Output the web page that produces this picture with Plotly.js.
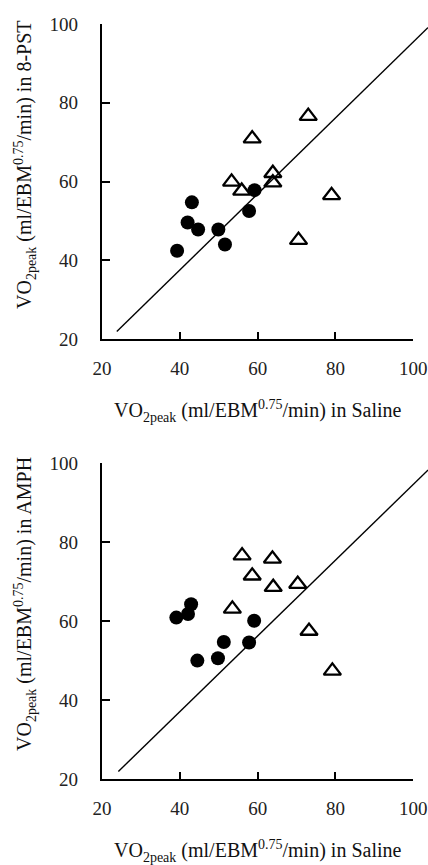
<!DOCTYPE html>
<html>
<head>
<meta charset="utf-8">
<script src="https://cdn.plot.ly/plotly-3.0.1.min.js"></script>
<style>html,body{margin:0;padding:0;background:#fff;}#chart{width:428px;height:865px;}</style>
</head>
<body>
<div id="chart"></div>
<script>
// ---- data ----
// Panel A: 8-PST vs Saline
const salineCircles8 = [39.3, 42.0, 43.1, 44.7, 49.9, 51.6, 57.8, 59.2];
const pstCircles     = [42.4, 49.6, 54.7, 47.8, 47.8, 44.0, 52.5, 57.8];
const salineTri8     = [53.3, 55.9, 58.6, 63.9, 63.9, 70.5, 73.0, 79.0];
const pstTri         = [59.9, 57.6, 70.9, 62.1, 59.7, 45.1, 76.6, 56.5];
const lineX8 = [23.8, 103.8];
const lineY8 = [21.9, 99.1];

// Panel B: AMPH vs Saline
const salineCirclesA = [39.1, 42.1, 42.9, 44.5, 49.8, 51.3, 57.8, 59.1];
const amphCircles    = [60.9, 61.8, 64.3, 50.0, 50.6, 54.7, 54.6, 60.1];
const salineTriA     = [53.5, 56.0, 58.6, 63.8, 64.0, 70.3, 73.2, 79.2];
const amphTri        = [63.1, 76.6, 71.5, 75.8, 68.6, 69.4, 57.5, 47.4];
const lineXA = [24.2, 103.8];
const lineYA = [21.9, 98.3];

const tickVals = [20, 40, 60, 80, 100];
const tickText = ['20', '40', '60', '80', '100'];
const xTitle = 'VO<sub>2peak</sub> (ml/EBM<sup>0.75</sup>/min) in Saline';
const yTitle8 = 'VO<sub>2peak</sub> (ml/EBM<sup>0.75</sup>/min) in 8-PST';
const yTitleA = 'VO<sub>2peak</sub> (ml/EBM<sup>0.75</sup>/min) in AMPH';

// ---- layout geometry ----
const W = 428, H = 865, L = 102;
const plotW = W - L;
const xEndPx = 413.3;
const xFrac = (xEndPx - L) / plotW;
const extRange = 20 + 80 / xFrac;
const py = p => 1 - p / H;

const font = 'Liberation Serif';
const circ = {color: '#000', size: 14, symbol: 'circle'};
const tri = {color: '#000', size: 15, symbol: 'triangle-up-open', line: {color: '#000', width: 2.3}};
const lineStyle = {color: '#000', width: 1.4};

const traces = [
  {x: lineX8, y: lineY8, xaxis: 'x3', yaxis: 'y', mode: 'lines', line: lineStyle, hoverinfo: 'skip'},
  {x: salineCircles8, y: pstCircles, xaxis: 'x', yaxis: 'y', mode: 'markers', marker: circ, cliponaxis: false},
  {x: salineTri8, y: pstTri, xaxis: 'x', yaxis: 'y', mode: 'markers', marker: tri, cliponaxis: false},
  {x: lineXA, y: lineYA, xaxis: 'x4', yaxis: 'y2', mode: 'lines', line: lineStyle, hoverinfo: 'skip'},
  {x: salineCirclesA, y: amphCircles, xaxis: 'x2', yaxis: 'y2', mode: 'markers', marker: circ, cliponaxis: false},
  {x: salineTriA, y: amphTri, xaxis: 'x2', yaxis: 'y2', mode: 'markers', marker: tri, cliponaxis: false}
];

function xAxis(anchor) {
  return {
    domain: [0, xFrac], range: [20, 100], anchor: anchor,
    showline: true, linecolor: '#000', linewidth: 2.2, mirror: false,
    ticks: 'inside', ticklen: 7, tickwidth: 2, tickcolor: '#000',
    tickvals: tickVals, ticktext: tickText,
    showgrid: false, zeroline: false, automargin: false,
    tickfont: {family: font, size: 19, color: '#222'},
    ticklabelstandoff: 11, fixedrange: true
  };
}
function yAxis(anchor, top, bottom) {
  return {
    domain: [py(bottom), py(top)], range: [20, 100], anchor: anchor,
    showline: true, linecolor: '#000', linewidth: 2.2,
    ticks: 'inside', ticklen: 8, tickwidth: 2, tickcolor: '#000',
    tickvals: tickVals, ticktext: tickText,
    showgrid: false, zeroline: false, automargin: false,
    tickfont: {family: font, size: 19, color: '#222'},
    ticklabelstandoff: 18, fixedrange: true
  };
}
function extAxis(anchor) {
  return {domain: [0, 1], range: [20, extRange], anchor: anchor, visible: false, fixedrange: true};
}

const layout = {
  width: W, height: H,
  margin: {l: L, r: 0, t: 0, b: 0, pad: 0},
  paper_bgcolor: '#fff', plot_bgcolor: 'rgba(0,0,0,0)',
  showlegend: false,
  font: {family: font, color: '#111'},
  xaxis: xAxis('y'),
  yaxis: yAxis('x', 24, 339),
  xaxis2: xAxis('y2'),
  yaxis2: yAxis('x2', 463.3, 779),
  xaxis3: extAxis('y'),
  xaxis4: extAxis('y2'),
  annotations: [
    {text: xTitle, xref: 'paper', yref: 'paper', x: (257.5 - L) / plotW, y: py(411), xanchor: 'center', yanchor: 'middle', showarrow: false, font: {family: font, size: 20, color: '#111'}},
    {text: xTitle, xref: 'paper', yref: 'paper', x: (257.5 - L) / plotW, y: py(851), xanchor: 'center', yanchor: 'middle', showarrow: false, font: {family: font, size: 20, color: '#111'}},
    {text: yTitle8, xref: 'paper', yref: 'paper', x: (25 - L) / plotW, y: py(165), xanchor: 'center', yanchor: 'middle', textangle: -90, showarrow: false, font: {family: font, size: 20, color: '#111'}},
    {text: yTitleA, xref: 'paper', yref: 'paper', x: (25 - L) / plotW, y: py(604), xanchor: 'center', yanchor: 'middle', textangle: -90, showarrow: false, font: {family: font, size: 20, color: '#111'}}
  ]
};

Plotly.newPlot('chart', traces, layout, {displayModeBar: false});
</script>
</body>
</html>
